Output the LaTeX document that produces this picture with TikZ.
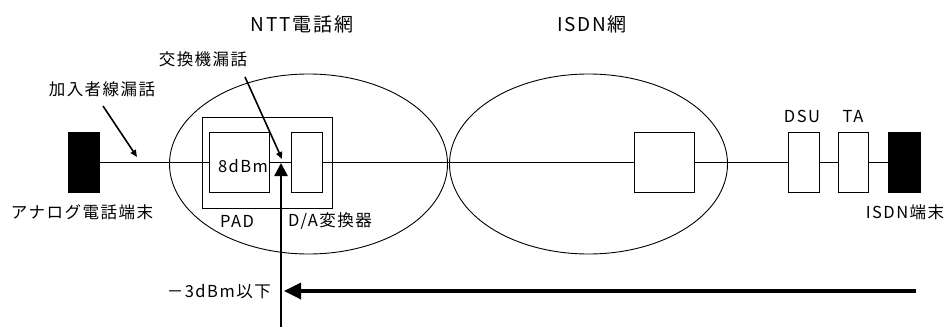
\documentclass[tikz,border=0pt]{standalone}
\usepackage{fontspec}
\setmainfont[LetterSpace=9]{Noto Sans CJK JP}
\usetikzlibrary{arrows.meta, shapes.geometric}
\usetikzlibrary{positioning}
\tikzstyle{term_node} = [
    rectangle, 
    draw=black, 
    fill=black, 
    inner sep=0pt, 
    minimum width=31pt, 
    minimum height=60pt
]
\tikzstyle{unit_node} = [
    rectangle, 
    draw=black, 
    fill=white, 
    line width=0.9pt, 
    inner sep=0pt, 
    minimum width=31pt, 
    minimum height=60pt
]
\tikzstyle{net_node} = [
    ellipse, 
    draw=black, 
    line width=0.9pt, 
    inner sep=0pt, 
    minimum width=278pt, 
    minimum height=180pt
]
\tikzstyle{label} = [
    inner sep=0pt, 
    font=\fontsize{16.5}{18}\selectfont
]
\tikzstyle{title} = [
    inner sep=0pt, 
    font=\fontsize{19}{21}\selectfont
]
\tikzstyle{leak} = [
    line width=1.6pt, 
    -{Triangle[length=7pt, width=6pt]}
]

\begin{document}
\begin{tikzpicture}[x=1pt, y=-1pt]
\useasboundingbox (0,0) rectangle (949,327);
% networks
\node [net_node] (ntt) at (308.5,164) {};
\node [net_node] (isdn) at (588.5,164) {};
\node [title] (ntt_t) at (302,24) {NTT電話網};
\node [title] (isdn_t) at (592,24) {ISDN網};
% exchange of NTT
\node [unit_node, minimum width=130pt, minimum height=91pt] (exch) at (267,162.5) {};
\node [unit_node, minimum width=60pt] (pad) at (239,162) {};
\node [unit_node] (da) at (306.5,162) {};
\node [label] (pad_v) at (243,166) {8dBm};
\node [label] (pad_t) at (237,221) {PAD};
\node [label] (da_t) at (330,221) {D/A変換器};
% ISDN side
\node [unit_node, minimum width=60pt] (sw) at (664,162) {};
\node [unit_node] (dsu) at (803.5,162) {};
\node [unit_node, minimum width=30pt] (ta) at (853,162) {};
\node [label] (dsu_t) at (802,116) {DSU};
\node [label] (ta_t) at (853,116) {TA};
% terminals
\node [term_node] (ana) at (83.5,162) {};
\node [term_node, minimum width=32pt] (dig) at (904,162) {};
\node [label] (ana_t) at (82,212) {アナログ電話端末};
\node [label] (dig_t) at (905,212) {ISDN端末};
% line
\draw [line width=0.9pt] (ana) -- (pad) (pad) -- (da) (da) -- (sw)
    (sw) -- (dsu) (dsu) -- (ta) (ta) -- (dig);
% crosstalk
\node [label] (sub_t) at (102,89) {加入者線漏話};
\node [label] (ex_t) at (203,59) {交換機漏話};
\coordinate (sub_s) at (103,106);
\coordinate (sub_e) at (137,157);
\coordinate (ex_s) at (245,77);
\coordinate (ex_e) at (282,159);
\draw [leak] (sub_s) -- (sub_e);
\draw [leak] (ex_s) -- (ex_e);
% levels
\node [label, anchor=east] (lvl) at (271,292) {－3dBm以下};
\coordinate (up_s) at (281,327);
\coordinate (up_e) at (281,163);
\coordinate (in_s) at (916,291);
\coordinate (in_e) at (284,291);
\draw [line width=2.4pt, -{Triangle[length=13pt, width=13pt]}] (up_s) -- (up_e);
\draw [line width=3.4pt, -{Triangle[length=17pt, width=16pt]}] (in_s) -- (in_e);
\end{tikzpicture}
\end{document}
